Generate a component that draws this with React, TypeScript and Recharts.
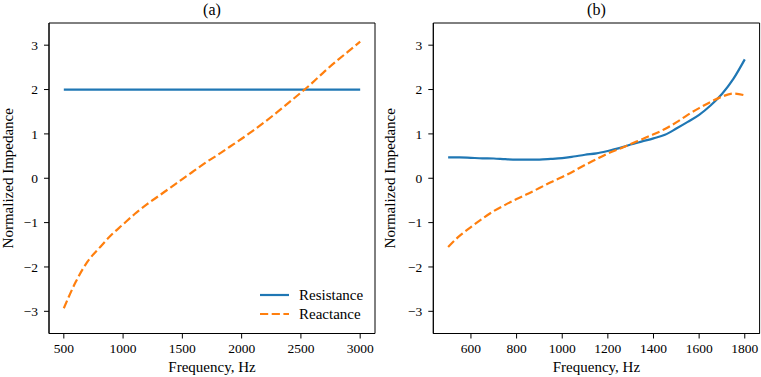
import React from "react";
import { LineChart, Line, XAxis, YAxis, ReferenceArea } from "recharts";

// ---- Data ----
const freqA = [500, 600, 700, 800, 900, 1000, 1100, 1200, 1300, 1400, 1500, 1600, 1700, 1800, 1900, 2000, 2100, 2200, 2300, 2400, 2500, 2600, 2700, 2800, 2900, 3000];
const resistanceA = [2, 2, 2, 2, 2, 2, 2, 2, 2, 2, 2, 2, 2, 2, 2, 2, 2, 2, 2, 2, 2, 2, 2, 2, 2, 2];
const reactanceA = [-2.93, -2.34, -1.88, -1.57, -1.28, -1.04, -0.8, -0.59, -0.4, -0.21, -0.02, 0.17, 0.36, 0.53, 0.71, 0.89, 1.08, 1.28, 1.49, 1.71, 1.93, 2.16, 2.41, 2.64, 2.86, 3.08];

const freqB = [500, 550, 600, 650, 700, 750, 800, 850, 900, 950, 1000, 1050, 1100, 1150, 1200, 1250, 1300, 1350, 1400, 1450, 1500, 1550, 1600, 1650, 1700, 1750, 1800];
const resistanceB = [0.47, 0.47, 0.46, 0.45, 0.445, 0.43, 0.42, 0.42, 0.42, 0.435, 0.455, 0.49, 0.53, 0.56, 0.615, 0.68, 0.76, 0.83, 0.9, 0.98, 1.12, 1.27, 1.43, 1.64, 1.9, 2.24, 2.68];
const reactanceB = [-1.55, -1.3, -1.1, -0.91, -0.74, -0.6, -0.47, -0.35, -0.22, -0.09, 0.03, 0.16, 0.3, 0.43, 0.56, 0.66, 0.77, 0.88, 0.99, 1.11, 1.26, 1.43, 1.58, 1.72, 1.84, 1.91, 1.87];

const xTicksA = [500, 1000, 1500, 2000, 2500, 3000];
const xTicksB = [600, 800, 1000, 1200, 1400, 1600, 1800];
const yTicks = [-3, -2, -1, 0, 1, 2, 3];
const seriesNames = ["Resistance", "Reactance"];
const titles = ["(a)", "(b)"];
const xLabel = "Frequency, Hz";
const yLabel = "Normalized Impedance";

const BLUE = "#1f77b4";
const ORANGE = "#ff7f0e";
const FONT = '"Liberation Serif", "DejaVu Serif", serif';
const DASH = "8.2 3.5";
const LW = 2.2;

const TOP = 23;
const XAXIS_H = 43.5;
const H = 377;

const fmt = (v: number) => String(v).replace("-", "\u2212");

type PanelProps = {
  freq: number[];
  res: number[];
  react: number[];
  xDomain: [number, number];
  xTicks: number[];
  left: number;
  width: number;
  plotLeft: number;
  rightMargin: number;
  labelX: number;
  title: string;
  legend?: boolean;
};

function Panel(p: PanelProps) {
  const data = p.freq.map((f, i) => ({ f, r: p.res[i], x: p.react[i] }));
  const yAxisW = 40;
  const plotW = p.width - p.plotLeft - p.rightMargin;
  const plotH = H - TOP - XAXIS_H;
  const cx = p.plotLeft + plotW / 2;
  const cy = TOP + plotH / 2;
  return (
    <div style={{ position: "absolute", left: p.left, top: 0, width: p.width, height: H }}>
      <LineChart
        width={p.width}
        height={H}
        data={data}
        margin={{ top: TOP, right: p.rightMargin, bottom: 0, left: p.plotLeft - yAxisW }}
      >
        <XAxis
          dataKey="f"
          type="number"
          domain={p.xDomain}
          ticks={p.xTicks}
          allowDataOverflow
          height={XAXIS_H}
          tickSize={5}
          tickMargin={5}
          stroke="#000"
          tick={{ fill: "#000", fontSize: 13.5, fontFamily: FONT }}
          tickLine={{ stroke: "#000" }}
          axisLine={{ stroke: "#000" }}
          label={{
            content: () => (
              <text x={cx} y={TOP + plotH + 38} textAnchor="middle" fontSize={15} fontFamily={FONT} fill="#000">
                {xLabel}
              </text>
            ),
          }}
        />
        <YAxis
          type="number"
          domain={[-3.5, 3.5]}
          ticks={yTicks}
          allowDataOverflow
          width={yAxisW}
          tickSize={5}
          tickMargin={6}
          tickFormatter={fmt}
          stroke="#000"
          tick={{ fill: "#000", fontSize: 13.5, fontFamily: FONT }}
          tickLine={{ stroke: "#000" }}
          axisLine={{ stroke: "#000" }}
          label={{
            content: () => (
              <text
                x={p.labelX}
                y={cy}
                textAnchor="middle"
                dominantBaseline="central"
                transform={`rotate(-90 ${p.labelX} ${cy})`}
                fontSize={15}
                fontFamily={FONT}
                fill="#000"
              >
                {yLabel}
              </text>
            ),
          }}
        />
        <ReferenceArea
          x1={p.xDomain[0]}
          x2={p.xDomain[1]}
          y1={-3.5}
          y2={3.5}
          fill="none"
          fillOpacity={0}
          stroke="#000"
          strokeWidth={1}
          ifOverflow="visible"
        />
        <Line
          dataKey="r"
          name={seriesNames[0]}
          type="monotone"
          stroke={BLUE}
          strokeWidth={LW}
          dot={false}
          isAnimationActive={false}
        />
        <Line
          dataKey="x"
          name={seriesNames[1]}
          type="monotone"
          stroke={ORANGE}
          strokeWidth={LW}
          strokeDasharray={DASH}
          dot={false}
          isAnimationActive={false}
        />
      </LineChart>
      <div
        style={{
          position: "absolute",
          left: cx - 40,
          top: 1,
          width: 80,
          textAlign: "center",
          fontFamily: FONT,
          fontSize: 16,
          lineHeight: "18px",
          color: "#000",
        }}
      >
        {p.title}
      </div>
      {p.legend && (
        <div style={{ position: "absolute", left: 260, top: 286, fontFamily: FONT, fontSize: 15, color: "#000" }}>
          {seriesNames.map((n, i) => (
            <div key={n} style={{ display: "flex", alignItems: "center", height: 18.7, whiteSpace: "nowrap" }}>
              <svg width={30} height={10} style={{ marginRight: 9 }}>
                <line
                  x1={0}
                  y1={5}
                  x2={29}
                  y2={5}
                  stroke={i === 0 ? BLUE : ORANGE}
                  strokeWidth={LW}
                  strokeDasharray={i === 0 ? undefined : DASH}
                />
              </svg>
              <span>{n}</span>
            </div>
          ))}
        </div>
      )}
    </div>
  );
}

export default function App() {
  return (
    <div style={{ position: "absolute", left: 0, top: 0, width: 761, height: 377, background: "#fff", overflow: "hidden" }}>
      <Panel
        freq={freqA}
        res={resistanceA}
        react={reactanceA}
        xDomain={[375, 3125]}
        xTicks={xTicksA}
        left={0}
        width={380}
        plotLeft={49}
        rightMargin={5}
        labelX={8}
        title={titles[0]}
        legend
      />
      <Panel
        freq={freqB}
        res={resistanceB}
        react={reactanceB}
        xDomain={[435, 1865]}
        xTicks={xTicksB}
        left={380}
        width={381}
        plotLeft={53.3}
        rightMargin={1.4}
        labelX={10}
        title={titles[1]}
      />
    </div>
  );
}
